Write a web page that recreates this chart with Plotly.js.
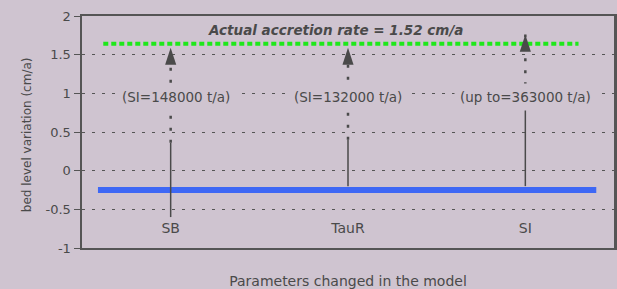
<!DOCTYPE html>
<html>
<head>
<meta charset="utf-8">
<script src="https://cdn.plot.ly/plotly-3.0.1.min.js"></script>
<style>html,body{margin:0;padding:0;background:#cfc4d0;}#chart{width:617px;height:289px;}</style>
</head>
<body>
<div id="chart"></div>
<script>
// ---- data ----
const categories = ['SB', 'TauR', 'SI'];
const stemBase   = [-0.6, -0.2, -0.2];   // bottom of solid stem
const solidTop   = [0.36, 0.40, 0.95];   // top of solid stem
const arrowTip   = [1.59, 1.59, 1.76];   // arrowhead tip
const stemLabels = ['(SI=148000 t/a)', '(SI=132000 t/a)', '(up to=363000 t/a)'];
const labelLevel = [0.95, 0.95, 0.95];
const actualRate = 1.52;                 // value in the title text
const actualLineLevel = 1.64;            // green dotted line as drawn
const actualLineX = [-0.38, 2.30];
const baselineLevel = -0.25;             // blue line
const baselineX = [-0.41, 2.40];
const yTicks = [-1, -0.5, 0, 0.5, 1, 1.5, 2];

const ink = '#4a4a4a';
const bg = '#cfc4d0';
const fam = 'DejaVu Sans, Verdana, sans-serif';
const catIndex = categories.map((c, i) => i);
const traces = [];

// blue baseline
traces.push({x: baselineX, y: [baselineLevel, baselineLevel], mode: 'lines',
  line: {color: '#3e68f5', width: 6}, hoverinfo: 'skip', showlegend: false});
// green actual line
traces.push({x: actualLineX, y: [actualLineLevel, actualLineLevel], mode: 'lines',
  line: {color: '#1ee81a', width: 4, dash: '5px,3px'}, hoverinfo: 'skip', showlegend: false});

catIndex.forEach(i => {
  // solid stem
  traces.push({x: [i, i], y: [stemBase[i], solidTop[i]], mode: 'lines',
    line: {color: ink, width: 1.5}, hoverinfo: 'skip', showlegend: false});
  // dotted stem up to arrow
  traces.push({x: [i, i], y: [solidTop[i], arrowTip[i]], mode: 'lines',
    line: {color: ink, width: 2.5, dash: '3px,9px'}, hoverinfo: 'skip', showlegend: false});
  // arrowhead
  traces.push({x: [i], y: [arrowTip[i]], mode: 'markers',
    marker: {symbol: 'arrow', size: 18, color: ink, angle: 0}, hoverinfo: 'skip', showlegend: false});
});

const annotations = catIndex.map(i => ({
  x: i, y: labelLevel[i], xref: 'x', yref: 'y', text: stemLabels[i], showarrow: false,
  xshift: i === 0 ? 5 : 0,
  bgcolor: bg, borderpad: 5, font: {family: fam, size: 13.5, color: ink}
}));
// y-axis title
annotations.push({xref: 'paper', yref: 'paper', x: -0.103, y: 0.487, xanchor: 'center', yanchor: 'middle',
  text: 'bed level variation (cm/a)', textangle: -90, showarrow: false,
  font: {family: fam, size: 12, color: ink}});

const layout = {
  width: 617, height: 289,
  paper_bgcolor: bg, plot_bgcolor: bg,
  margin: {l: 82, r: 3, t: 16, b: 41},
  font: {family: fam, color: ink, size: 13},
  title: {text: '<b><i>Actual accretion rate = ' + actualRate + ' cm/a</i></b>',
    x: 0.545, xanchor: 'center', y: 0.896, yanchor: 'middle',
    font: {family: fam, size: 13.5, color: ink}},
  xaxis: {range: [-0.5, 2.5], tickvals: catIndex, ticktext: categories,
    showgrid: false, zeroline: false, ticks: '', showline: true, linecolor: '#555', linewidth: 2,
    mirror: true, ticklabelposition: 'inside', ticklabelstandoff: 12, ticklabeloverflow: 'allow',
    tickfont: {family: fam, size: 14, color: ink},
    title: {text: 'Parameters changed in the model', standoff: 42,
      font: {family: fam, size: 14, color: ink}}},
  yaxis: {range: [-1, 2], tickvals: yTicks, ticktext: yTicks.map(String),
    showgrid: true, gridcolor: '#555', gridwidth: 1, griddash: '3px,7px',
    zeroline: false, showline: true, linecolor: '#555', linewidth: 2.5, mirror: true,
    ticks: 'outside', ticklen: 6, tickcolor: '#555', ticklabeloverflow: 'allow',
    tickfont: {family: fam, size: 13, color: ink}},
  annotations: annotations,
  showlegend: false
};

Plotly.newPlot('chart', traces, layout, {displayModeBar: false, staticPlot: true});
</script>
</body>
</html>
